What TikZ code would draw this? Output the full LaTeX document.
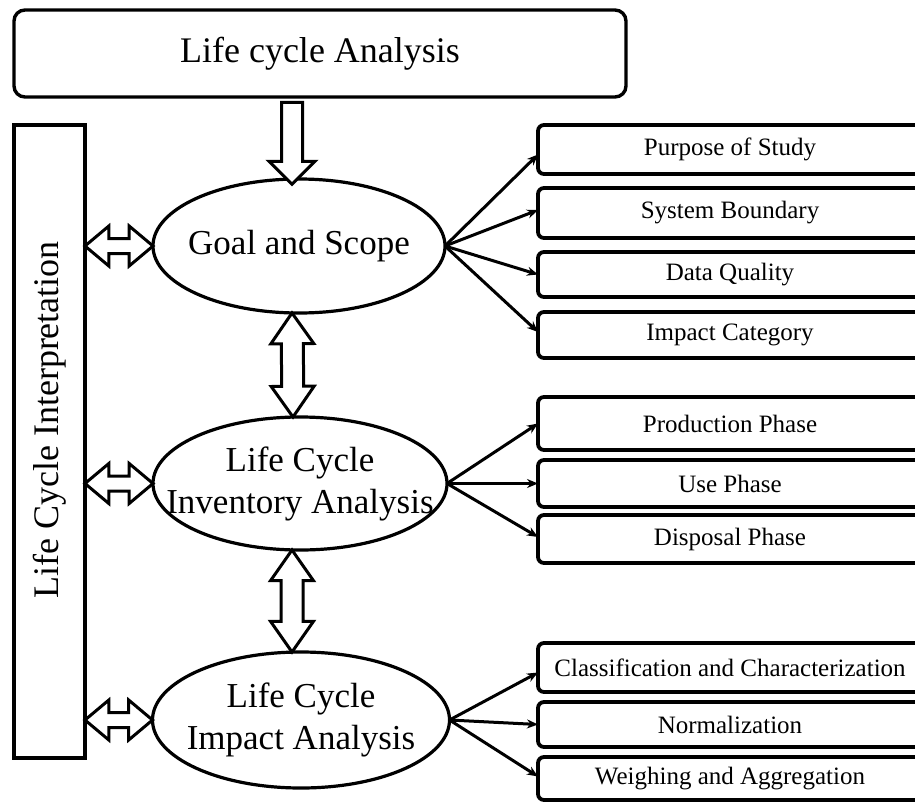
\documentclass[tikz,border=0pt]{standalone}
\usepackage{fontspec}
\setmainfont{Liberation Serif}
\usetikzlibrary{shapes.geometric,shapes.arrows,arrows.meta,calc}

\begin{document}
\begin{tikzpicture}[x=1pt,y=-1pt,
  frame/.style={draw, line width=3.4pt, rounded corners=11pt, inner sep=0pt, outer sep=0pt},
  sidebox/.style={draw, line width=3.4pt, inner sep=0pt, outer sep=0pt},
  phase/.style={draw, ellipse, line width=3.2pt, inner sep=0pt, outer sep=0pt},
  phasetext/.style={align=center, inner sep=0pt, font=\fontsize{35}{42}\selectfont},
  item/.style={draw, line width=3.8pt, rounded corners=6pt, anchor=west, minimum width=384pt,
    inner sep=0pt, outer sep=0pt, font=\fontsize{25}{30}\selectfont},
  feed/.style={line width=3pt, -{Stealth[length=11pt,width=9pt]}},
  hollow/.style={draw, line width=3pt, fill=white, inner xsep=0pt, outer sep=0pt,
    minimum width=0pt, sloped, allow upside down},
  downarrow/.style={hollow, single arrow, single arrow head extend=12.5pt,
    single arrow tip angle=90, inner ysep=9pt},
  vlink/.style={hollow, double arrow, double arrow head extend=10.5pt,
    double arrow tip angle=70, inner ysep=9.5pt},
  hlink/.style={hollow, double arrow, double arrow head extend=12.5pt,
    double arrow tip angle=80, inner ysep=6pt}
]
\useasboundingbox (0,0) rectangle (915,803);
\clip (0,0) rectangle (915,803);

% main frame, side bar and the three phases
\node[frame, minimum width=612pt, minimum height=87pt, font=\fontsize{36}{40}\selectfont]
  (title) at (320,53.5) {Life cycle Analysis};
\node[sidebox, minimum width=71pt, minimum height=633pt] (interp) at (49.5,441.5) {};
\node[rotate=90, inner sep=0pt, font=\fontsize{36}{40}\selectfont]
  (interptext) at (50,420) {Life Cycle Interpretation};

\node[phase, minimum width=292pt, minimum height=134pt,
  label={[phasetext]center:Goal and Scope}] (goal) at (299,246) {};
\node[phase, minimum width=294pt, minimum height=133pt,
  label={[phasetext]center:Life Cycle\\Inventory Analysis}] (inv) at (300,483.5) {};
\node[phase, minimum width=297pt, minimum height=136pt,
  label={[phasetext]center:Life Cycle\\Impact Analysis}] (imp) at (301,720) {};

% items of each phase
\node[item, minimum height=49pt] (purpose) at (538,149.5) {Purpose of Study};
\node[item, minimum height=50pt] (boundary) at (538,213) {System Boundary};
\node[item, minimum height=45pt] (quality) at (538,274.5) {Data Quality};
\node[item, minimum height=46pt] (category) at (538,335) {Impact Category};

\node[item, minimum height=53pt] (production) at (538,423.5) {Production Phase};
\node[item, minimum height=47pt] (use) at (538,483.5) {Use Phase};
\node[item, minimum height=48pt] (disposal) at (538,539) {Disposal Phase};

\node[item, minimum height=49pt] (classif) at (538,667.5) {Classification and Characterization};
\node[item, minimum height=45pt] (normal) at (538,724.5) {Normalization};
\node[item, minimum height=43pt] (weigh) at (538,778.5) {Weighing and Aggregation};

% arrows to the items
\draw[feed] (goal.east) -- ($(purpose.west)+(0,5)$);
\draw[feed] (goal.east) -- ($(boundary.west)+(0,-3)$);
\draw[feed] (goal.east) -- (quality.west);
\draw[feed] (goal.east) -- ($(category.west)+(0,-3)$);

\draw[feed] (inv.east) -- (production.west);
\draw[feed] (inv.east) -- (use.west);
\draw[feed] (inv.east) -- ($(disposal.west)+(0,-2)$);

\draw[feed] (imp.east) -- ($(classif.west)+(0,5)$);
\draw[feed] (imp.east) -- (normal.west);
\draw[feed] (imp.east) -- ($(weigh.west)+(0,-2)$);

% hollow block arrows
\path let \p1=($(goal.north |- title.south)+(-7,0)$), \p2=($(goal.north)+(-7,0)$),
  \n1={veclen(\x2-\x1,\y2-\y1)} in
  (\p1) -- (\p2) node[midway, downarrow, minimum height=\n1] (start) {};

\path let \p1=($(goal.south)+(-7,0)$), \p2=($(inv.north)+(-7,0)$),
  \n1={veclen(\x2-\x1,\y2-\y1)} in
  (\p1) -- (\p2) node[midway, vlink, minimum height=\n1] (gi) {};
\path let \p1=($(inv.south)+(-8,0)$), \p2=($(imp.north)+(-9,0)$),
  \n1={veclen(\x2-\x1,\y2-\y1)} in
  (\p1) -- (\p2) node[midway, vlink, minimum height=\n1] (ii) {};

\path let \p1=(interp.east |- goal.west), \p2=(goal.west),
  \n1={veclen(\x2-\x1,\y2-\y1)} in
  (\p1) -- (\p2) node[midway, hlink, minimum height=\n1] (lg) {};
\path let \p1=(interp.east |- inv.west), \p2=(inv.west),
  \n1={veclen(\x2-\x1,\y2-\y1)} in
  (\p1) -- (\p2) node[midway, hlink, minimum height=\n1] (li) {};
\path let \p1=(interp.east |- imp.west), \p2=(imp.west),
  \n1={veclen(\x2-\x1,\y2-\y1)} in
  (\p1) -- (\p2) node[midway, hlink, minimum height=\n1] (lm) {};
\end{tikzpicture}
\end{document}
